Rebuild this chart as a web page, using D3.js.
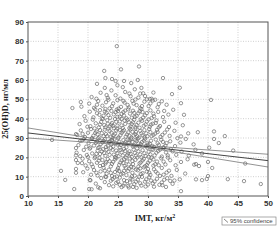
<!DOCTYPE html>
<html>
<head>
<meta charset="utf-8">
<script src="https://cdn.jsdelivr.net/npm/d3@7"></script>
<style>
  body { margin: 0; background: #fff; }
  svg { display: block; }
</style>
</head>
<body>
<script>
// x ticks / y ticks
var xTicks = [10, 15, 20, 25, 30, 35, 40, 45, 50];
var yTicks = [0, 10, 20, 30, 40, 50, 60, 70, 80, 90];

// regression line and 95% confidence band
var fitX = [10, 15, 20, 25, 30, 35, 40, 45, 50];
var fitY = [32.6, 30.8, 29.0, 27.2, 25.5, 23.7, 21.9, 20.1, 18.3];
var upperY = [35.2, 32.7, 30.2, 27.8, 26.1, 24.9, 23.8, 22.7, 21.6];
var lowerY = [30.0, 28.9, 27.8, 26.6, 24.9, 22.5, 20.0, 17.5, 15.0];

// [IMT, 25(OH)D]
var points = [
  [20.6,51.2],[22.1,53.4],[23.3,50.8],[23.9,54.6],[24.6,52.1],[25.4,50.4],[26.2,53.8],[27.1,51.6],[27.8,55.2],[28.4,50.9],[29.2,53.1],[30.3,50.2],[25.8,56.3],[22.8,55.9],[21.4,50.3],
  [18.9,46.2],[20.2,47.8],[21.0,45.6],[21.7,49.1],[22.4,46.7],[23.0,48.5],[23.6,45.3],[24.2,47.9],[24.9,49.6],[25.5,46.1],[26.1,48.3],[26.8,45.8],[27.4,49.2],[28.1,47.0],[28.7,45.4],[29.4,48.8],[30.1,46.5],[30.8,49.4],[31.6,45.9],[33.1,47.2],[22.9,45.0],[25.1,45.2],[27.9,49.9],[23.4,49.8],[26.6,47.1],
  [19.4,41.3],[20.3,43.6],[20.9,40.7],[21.5,42.8],[22.0,44.4],[22.6,41.5],[23.1,43.1],[23.7,40.4],[24.3,42.2],[24.8,44.7],[25.3,41.0],[25.9,43.4],[26.4,40.2],[27.0,42.6],[27.5,44.1],[28.1,41.4],[28.6,43.8],[29.2,40.6],[29.8,42.9],[30.4,44.3],[31.0,41.2],[31.7,43.5],[32.5,40.8],[33.4,42.1],[34.2,44.6],[21.2,44.9],[23.9,44.0],[26.7,44.8],[28.9,44.9],[22.3,40.1],[25.6,42.5],[27.8,40.9],[30.6,40.3],[24.6,43.3],
  [18.6,37.2],[19.6,38.9],[20.4,36.1],[20.8,39.5],[21.3,37.6],[21.8,35.4],[22.2,38.3],[22.7,36.7],[23.2,39.2],[23.6,35.9],[24.0,37.8],[24.5,39.8],[24.9,36.4],[25.3,38.6],[25.8,35.2],[26.2,37.3],[26.6,39.4],[27.1,36.0],[27.5,38.1],[27.9,35.6],[28.4,37.9],[28.8,39.7],[29.3,36.3],[29.8,38.5],[30.3,35.8],[30.8,37.4],[31.4,39.1],[32.0,36.2],[32.7,38.4],[33.5,35.7],[34.6,37.9],[35.8,36.6],[22.5,39.9],[24.3,35.1],[26.9,35.1],[28.6,35.3],[30.1,39.6],[31.8,35.5],[19.9,35.8],[23.9,36.9],[25.6,39.9],[27.3,37.2],[29.6,37.0],[21.1,35.0],
  [18.2,31.6],[18.8,33.9],[19.5,30.5],[20.0,32.7],[20.5,34.6],[20.9,31.2],[21.4,33.3],[21.9,30.4],[22.3,32.5],[22.8,34.3],[23.2,31.0],[23.6,33.6],[24.1,30.1],[24.5,32.2],[24.9,34.8],[25.4,31.5],[25.8,33.4],[26.3,30.7],[26.7,32.9],[27.1,34.5],[27.6,31.3],[28.0,33.1],[28.5,30.2],[28.9,32.4],[29.4,34.1],[29.9,30.9],[30.4,33.0],[30.9,31.6],[31.5,34.2],[32.1,30.6],[32.8,32.8],[33.6,31.1],[34.4,33.7],[35.5,30.8],[36.7,32.4],[21.6,31.9],[23.9,32.8],[26.0,34.0],[28.2,30.9],[30.2,34.6],[22.6,30.9],[25.1,30.3],[27.4,33.2],[29.1,31.4],[31.2,32.3],[24.7,33.9],[26.5,31.8],[23.4,34.9],[19.1,32.1],[33.2,34.4],[20.7,30.0],[27.9,34.9],
  [18.4,26.3],[19.0,28.7],[19.7,25.5],[20.1,27.4],[20.6,29.6],[21.0,26.1],[21.5,28.2],[21.9,25.3],[22.4,27.7],[22.8,29.4],[23.3,26.0],[23.7,28.5],[24.2,25.6],[24.6,27.2],[25.0,29.8],[25.5,26.4],[25.9,28.9],[26.4,25.2],[26.8,27.6],[27.2,29.3],[27.7,26.2],[28.1,28.4],[28.6,25.7],[29.0,27.9],[29.5,29.6],[30.0,26.5],[30.5,28.6],[31.0,25.4],[31.6,27.3],[32.2,29.1],[32.9,26.0],[33.7,28.3],[34.5,25.8],[35.4,27.6],[36.3,29.5],[37.6,26.7],[21.7,29.9],[24.0,29.0],[26.1,26.9],[28.3,29.7],[30.3,27.0],[22.1,26.8],[25.3,25.0],[27.4,28.0],[29.7,25.9],[31.3,29.2],[23.5,27.9],[26.6,29.1],[28.8,26.8],[33.1,27.4],[20.4,25.1],[34.9,29.9],[24.9,26.6],[32.6,25.2],[19.3,29.5],
  [18.1,22.4],[18.7,20.6],[19.3,23.8],[19.8,21.2],[20.3,24.5],[20.7,22.0],[21.2,20.3],[21.6,23.4],[22.0,21.7],[22.5,24.2],[22.9,20.8],[23.4,22.9],[23.8,24.8],[24.3,21.4],[24.7,23.5],[25.1,20.5],[25.6,22.6],[26.0,24.4],[26.5,21.1],[26.9,23.1],[27.3,20.2],[27.8,22.3],[28.2,24.6],[28.7,21.5],[29.1,23.7],[29.6,20.7],[30.1,22.8],[30.6,24.1],[31.1,21.0],[31.7,23.3],[32.3,20.4],[33.0,22.5],[33.8,24.3],[34.7,21.3],[35.6,23.0],[36.8,20.9],[37.9,23.9],[21.4,21.8],[23.1,23.9],[25.4,23.8],[27.6,24.0],[29.9,24.9],[24.5,20.1],[26.7,22.0],[28.9,20.0],[30.8,23.9],[22.7,22.2],[32.6,24.7],[20.0,20.1],[34.1,23.1],
  [18.3,17.1],[19.1,19.3],[19.6,15.8],[20.2,18.0],[20.6,16.4],[21.1,19.6],[21.5,17.2],[22.0,15.5],[22.4,18.6],[22.9,16.8],[23.3,19.1],[23.8,15.3],[24.2,17.7],[24.7,19.7],[25.2,16.1],[25.6,18.4],[26.1,15.6],[26.5,17.9],[27.0,19.4],[27.5,16.5],[27.9,18.7],[28.4,15.2],[28.8,17.4],[29.3,19.2],[29.8,16.0],[30.3,18.2],[30.9,15.7],[31.5,17.8],[32.2,19.5],[32.9,16.3],[33.7,18.5],[34.6,15.9],[35.5,17.6],[36.6,19.0],[37.7,16.2],[21.8,18.3],[24.0,16.6],[26.3,19.9],[28.6,16.9],[30.6,19.8],[23.6,18.0],[27.2,15.0],[31.2,16.4],[25.9,17.0],[20.8,15.1],
  [19.2,12.3],[19.9,14.2],[20.5,11.0],[21.0,13.4],[21.6,10.6],[22.1,12.7],[22.6,14.6],[23.1,11.5],[23.5,13.6],[24.0,10.3],[24.5,12.4],[25.0,14.4],[25.5,11.2],[26.0,13.0],[26.4,10.8],[26.9,14.1],[27.4,12.0],[27.8,10.5],[28.3,13.3],[28.8,11.4],[29.3,14.8],[29.8,12.6],[30.4,10.9],[31.0,13.8],[31.6,11.7],[32.3,14.5],[33.1,12.1],[33.9,10.4],[34.8,13.5],[36.2,11.6],[22.9,10.1],[25.2,12.9],[27.6,14.7],[30.0,14.0],[24.8,10.1],[28.5,10.0],[32.6,11.0],
  [20.4,8.1],[21.3,6.4],[22.2,9.3],[22.8,7.2],[23.5,5.6],[24.1,8.7],[24.7,6.8],[25.3,9.5],[25.9,5.3],[26.5,7.7],[27.1,9.1],[27.7,6.1],[28.3,8.4],[28.9,5.4],[29.5,7.4],[30.2,9.7],[30.8,6.5],[31.5,8.9],[32.3,7.0],[33.2,9.2],[34.1,6.3],[35.3,8.6],[23.0,9.8],[26.0,8.2],[29.0,9.9],[31.9,5.8],
  [24.2,5.0],[25.6,4.6],[26.8,4.4],[27.5,4.7],[28.1,4.2],[29.6,4.9],[35.5,2.5],
  // second pass over the dense core
  [21.9,42.0],[23.4,41.8],[24.9,40.9],[26.0,41.6],[27.3,40.5],[28.4,42.8],[29.5,41.7],[30.9,42.6],[22.8,43.7],[25.0,43.9],[26.2,44.2],[27.7,43.0],[29.1,43.4],
  [22.0,37.0],[23.3,37.4],[24.7,38.4],[25.6,36.5],[26.8,38.2],[28.1,36.7],[29.0,38.9],[30.5,36.9],[31.3,37.8],[22.9,35.5],[27.7,39.5],[26.1,39.0],[24.2,36.2],
  [21.2,32.6],[22.0,34.1],[23.0,32.0],[24.3,31.4],[25.6,32.6],[26.9,31.1],[27.9,32.0],[28.7,33.7],[29.7,32.4],[30.6,31.0],[31.6,33.1],[32.4,31.6],[25.3,34.2],[23.8,30.6],[27.2,30.2],[29.4,30.4],
  [21.3,27.5],[22.6,28.5],[23.9,26.8],[25.2,28.0],[26.2,27.7],[27.5,25.6],[28.4,27.2],[29.3,28.6],[30.7,25.9],[31.8,26.4],[32.5,28.0],[23.0,25.4],[24.4,29.5],[26.9,28.8],[29.9,27.4],[27.9,29.0],
  [21.7,24.9],[22.3,23.1],[23.6,21.3],[24.9,22.2],[26.2,23.3],[27.1,21.8],[28.4,23.1],[29.4,22.1],[30.4,21.5],[31.4,22.4],[32.0,24.0],[33.3,21.0],[25.8,21.0],[24.1,23.9],[28.0,20.9],[30.1,20.2],
  [21.9,19.7],[23.0,17.5],[24.5,18.9],[25.4,17.3],[26.8,16.3],[27.4,18.1],[28.2,19.9],[29.1,18.4],[30.0,17.2],[30.9,18.9],[31.8,15.9],[32.6,17.8],[33.3,19.9],[22.5,16.0],[26.0,19.0],[29.5,15.4],
  [21.4,12.0],[22.8,13.1],[23.8,12.0],[24.9,13.5],[25.8,11.7],[26.7,12.9],[27.3,10.2],[28.0,13.7],[29.1,11.8],[30.2,12.1],[31.3,12.6],[32.0,10.4],[33.5,13.1],[26.3,14.6],[28.7,14.3],
  [23.8,7.9],[25.0,7.4],[26.1,6.4],[27.0,7.0],[28.0,7.4],[29.7,8.6],[30.5,8.0],[31.1,7.5],[32.7,8.4],[33.7,7.8],[24.4,9.6],[27.4,8.6],[28.7,6.6],[30.0,5.9],[26.7,5.2],[25.3,5.8],[31.0,4.8],[32.4,5.6],[33.0,4.7],[34.4,8.0],
  [21.5,47.2],[24.0,46.4],[25.9,49.2],[27.6,47.8],[29.0,46.5],[30.4,47.9],[32.3,49.0],[23.1,52.2],[26.9,53.0],[28.9,55.9],[30.9,53.5],[24.9,57.3],[27.2,58.4],
  // outliers
  [24.8,77.5],[22.7,64.7],[22.9,61],[21.5,58],[24,60.5],[24.6,59.5],[26,59.5],[25.5,65.5],[28.5,67],[18.8,48.6],[17.4,45.5],[28.3,60],[32.5,61],[35.3,56],[34,52.7],[40.5,49.7],[35.5,48],[36,42],[32.7,44],[31.8,47.6],[29.8,50],[30.6,50.3],[31.2,49.8],[29.5,51.7],[28.7,53],
  [14,29],[15.5,13],[16.2,8.3],[17.7,3.6],[18,32],[18,24.8],[18,21],[18,18.6],[18,14],[18,12],[19,17],[18.7,28.5],[20.3,8.3],[20.2,3.6],[20.6,3.5],[21.7,4.5],[22,4],
  [38,8.6],[39,8.2],[39.8,8.8],[43.3,8.7],[46,7.7],[48.8,6.2],[41,29.5],[42.8,31],[41,33.4],[44.2,23.5],[46.2,16.8],[38.3,33],[40,17.6],[40.2,25],[41.8,27.4],[39,22],[38.5,15.5],[38,16.5],[40.7,14.5],[40,10.3]
];

var legendLabel = "95% confidence";

var margin = {top: 22, right: 12, bottom: 44, left: 28},
    width = 280 - margin.left - margin.right,
    height = 240 - margin.top - margin.bottom;

var x = d3.scaleLinear().domain([10, 50]).range([0, width]);
var y = d3.scaleLinear().domain([0, 90]).range([height, 0]);

var svg = d3.select("body").append("svg")
    .attr("width", 280)
    .attr("height", 240)
  .append("g")
    .attr("transform", "translate(" + margin.left + "," + margin.top + ")");

// grid
svg.append("g")
    .selectAll("line")
    .data(xTicks.slice(1, -1))
    .enter().append("line")
      .attr("x1", function(d) { return x(d); })
      .attr("x2", function(d) { return x(d); })
      .attr("y1", 0).attr("y2", height)
      .attr("stroke", "#bbb").attr("stroke-width", 0.7)
      .attr("stroke-dasharray", "1,1.5");
svg.append("g")
    .selectAll("line")
    .data(yTicks.slice(1, -1))
    .enter().append("line")
      .attr("x1", 0).attr("x2", width)
      .attr("y1", function(d) { return y(d); })
      .attr("y2", function(d) { return y(d); })
      .attr("stroke", "#bbb").attr("stroke-width", 0.7)
      .attr("stroke-dasharray", "1,1.5");

// points
svg.append("g")
    .selectAll("circle")
    .data(points)
    .enter().append("circle")
      .attr("cx", function(d) { return x(d[0]); })
      .attr("cy", function(d) { return y(d[1]); })
      .attr("r", 1.7)
      .attr("fill", "none")
      .attr("stroke", "#6a6a6a")
      .attr("stroke-width", 0.7);

// regression + confidence band
var line = d3.line()
    .x(function(d) { return x(d[0]); })
    .y(function(d) { return y(d[1]); })
    .curve(d3.curveMonotoneX);

function zipWith(ys) {
  return fitX.map(function(v, i) { return [v, ys[i]]; });
}

svg.append("path").datum(zipWith(upperY))
    .attr("d", line).attr("fill", "none").attr("stroke", "#777").attr("stroke-width", 0.8);
svg.append("path").datum(zipWith(lowerY))
    .attr("d", line).attr("fill", "none").attr("stroke", "#777").attr("stroke-width", 0.8);
svg.append("path").datum(zipWith(fitY))
    .attr("d", line).attr("fill", "none").attr("stroke", "#444").attr("stroke-width", 1);

// frame
svg.append("rect")
    .attr("width", width).attr("height", height)
    .attr("fill", "none").attr("stroke", "#555").attr("stroke-width", 1);

// axes
var xAxis = svg.append("g")
    .attr("transform", "translate(0," + height + ")")
    .call(d3.axisBottom(x).tickValues(xTicks).tickSize(2).tickPadding(2));
var yAxis = svg.append("g")
    .call(d3.axisLeft(y).tickValues(yTicks).tickSize(2).tickPadding(2));

[xAxis, yAxis].forEach(function(a) {
  a.select(".domain").remove();
  a.selectAll("line").attr("stroke", "#555");
  a.selectAll("text")
    .attr("font-family", "Liberation Sans, Arial, sans-serif")
    .attr("font-size", 8)
    .attr("font-weight", "bold")
    .attr("fill", "#333");
});

// axis titles
svg.append("text")
    .attr("x", 127).attr("y", height + 25)
    .attr("text-anchor", "middle")
    .attr("font-family", "Liberation Serif, Times New Roman, serif")
    .attr("font-size", 8.5)
    .attr("font-weight", "bold")
    .attr("fill", "#222")
    .html("IMT, кг/м<tspan dy='-3' font-size='6'>2</tspan>");

svg.append("text")
    .attr("transform", "translate(" + (-20) + "," + (height / 2) + ") rotate(-90)")
    .attr("text-anchor", "middle")
    .attr("font-family", "Liberation Serif, Times New Roman, serif")
    .attr("font-size", 8.5)
    .attr("font-weight", "bold")
    .attr("fill", "#222")
    .text("25(OH)D, нг/мл");

// legend
var lg = svg.append("g").attr("transform", "translate(194," + (height + 21) + ")");
lg.append("rect")
    .attr("width", 54).attr("height", 8)
    .attr("fill", "#fff").attr("stroke", "#888").attr("stroke-width", 0.7);
lg.append("line")
    .attr("x1", 2).attr("y1", 2).attr("x2", 6).attr("y2", 5.5)
    .attr("stroke", "#555").attr("stroke-width", 0.7);
lg.append("text")
    .attr("x", 8).attr("y", 6)
    .attr("font-family", "Liberation Sans, Arial, sans-serif")
    .attr("font-size", 6)
    .attr("fill", "#444")
    .text(legendLabel);
</script>
</body>
</html>
